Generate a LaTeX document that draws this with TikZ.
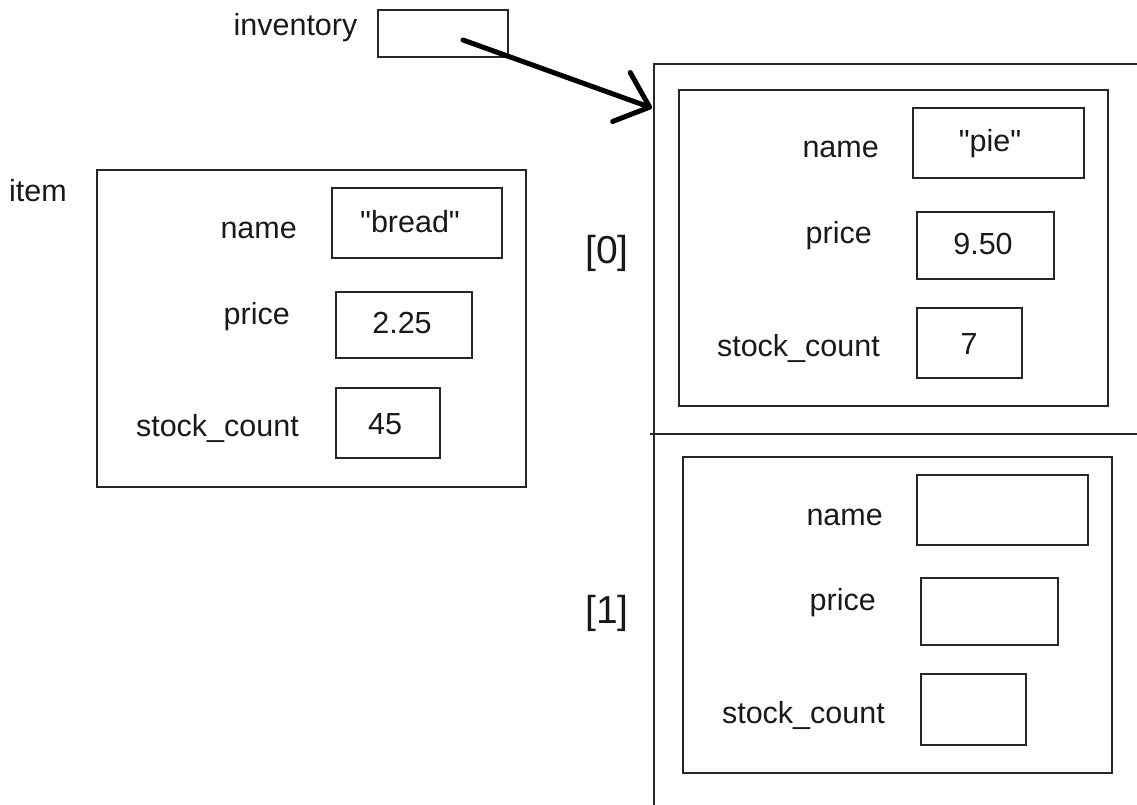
\documentclass[tikz,border=0pt]{standalone}
\usepackage{fontspec}
\setmainfont{Liberation Sans}[Ligatures=TeXOff]
\usetikzlibrary{arrows.meta}
\begin{document}
\begin{tikzpicture}[x=1pt,y=-1pt,
  every node/.style={font=\fontsize{30.5}{36}\selectfont, inner sep=0pt, text=black!90},
  vbox/.style={draw=black!85, line width=1.7pt, rectangle},
  lbl/.style={anchor=base east},
  val/.style={anchor=base},
  idx/.style={anchor=base, font=\fontsize{39}{44}\selectfont},
  frameline/.style={draw=black!85, line width=1.7pt},
  arrowline/.style={line width=5pt, line cap=round, -{Straight Barb[length=30pt,width=52pt,line width=5pt, round]}}]
\useasboundingbox (0,0) rectangle (1137,805);
% inventory
\node[anchor=base] (invlbl) at (295.5,36) {inventory};
\node[vbox, minimum width=130pt, minimum height=47pt] (inv) at (443,33.5) {};
% item
\node[anchor=base west] (itemlbl) at (9,201) {item};
\node[vbox, minimum width=429pt, minimum height=317pt] (item) at (311.5,328.5) {};
\node[lbl] (iname) at (297,238) {name};
\node[vbox, minimum width=170pt, minimum height=70pt] (inameb) at (417,223) {};
\node[val] (inamev) at (410,232) {"bread"};
\node[lbl] (iprice) at (290,324) {price};
\node[vbox, minimum width=136pt, minimum height=66pt] (ipriceb) at (404,325) {};
\node[val] (ipricev) at (402,333) {2.25};
\node[lbl] (istock) at (299,436) {stock\_count};
\node[vbox, minimum width=104pt, minimum height=70pt] (istockb) at (388,423) {};
\node[val] (istockv) at (385,434) {45};
% array frame
\coordinate (ftop) at (654,64);
\coordinate (ftr) at (1137,64);
\coordinate (fbot) at (654,805);
\coordinate (dl) at (650,434);
\coordinate (dr) at (1137,434);
\draw[frameline] (ftr) -- (ftop) -- (fbot);
\draw[frameline] (dl) -- (dr);
\node[idx] (idx0) at (607,263) {[0]};
\node[idx] (idx1) at (607,623) {[1]};
% element 0
\node[vbox, minimum width=429pt, minimum height=316pt] (e0) at (893.5,248) {};
\node[lbl] (e0name) at (879,158) {name};
\node[vbox, minimum width=171pt, minimum height=70pt] (e0nameb) at (998.5,143) {};
\node[val] (e0namev) at (990,152) {"pie"};
\node[lbl] (e0price) at (872,243) {price};
\node[vbox, minimum width=137pt, minimum height=67pt] (e0priceb) at (985.5,245.5) {};
\node[val] (e0pricev) at (983,254) {9.50};
\node[lbl] (e0stock) at (880,356) {stock\_count};
\node[vbox, minimum width=105pt, minimum height=70pt] (e0stockb) at (969.5,343) {};
\node[val] (e0stockv) at (969,354) {7};
% element 1
\node[vbox, minimum width=429pt, minimum height=316pt] (e1) at (897.5,615) {};
\node[lbl] (e1name) at (883,525) {name};
\node[vbox, minimum width=171pt, minimum height=70pt] (e1nameb) at (1002.5,510) {};
\node[lbl] (e1price) at (876,610) {price};
\node[vbox, minimum width=137pt, minimum height=67pt] (e1priceb) at (989.5,611.5) {};
\node[lbl] (e1stock) at (885,723) {stock\_count};
\node[vbox, minimum width=105pt, minimum height=71pt] (e1stockb) at (973.5,709.5) {};
% pointer arrow
\coordinate (tail) at (463,40);
\coordinate (tip) at (652,108);
\draw[arrowline] (tail) -- (tip);
\end{tikzpicture}
\end{document}
